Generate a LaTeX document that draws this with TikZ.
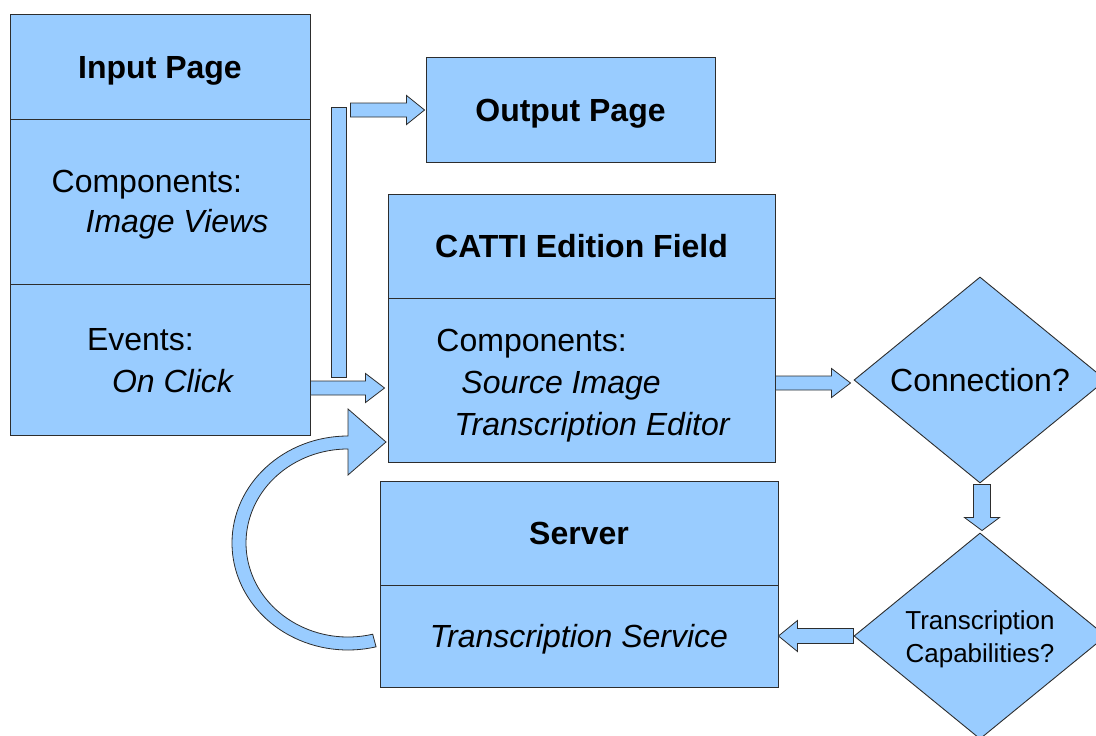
\documentclass[tikz,border=0pt]{standalone}
\usepackage{fontspec}
\setmainfont{Liberation Sans}
\usetikzlibrary{calc,shapes.geometric}
\definecolor{boxfill}{RGB}{153,204,255}
\definecolor{boxline}{RGB}{45,45,45}

% Block arrow from #1 to #2: shaft half width #3, head half width #4, head length #5
\newcommand\blockarrow[5]{%
  \coordinate (ba-s) at #1;
  \coordinate (ba-e) at #2;
  \coordinate (ba-h) at ($(ba-e)!#5!(ba-s)$);
  \draw[arrowshape] ($(ba-s)!#3!90:(ba-e)$) -- ($(ba-h)!#3!-90:(ba-s)$)
    -- ($(ba-h)!#4!-90:(ba-s)$) -- (ba-e) -- ($(ba-h)!#4!90:(ba-s)$)
    -- ($(ba-h)!#3!90:(ba-s)$) -- ($(ba-s)!#3!-90:(ba-e)$) -- cycle;}

\begin{document}
\begin{tikzpicture}[x=1pt,y=-1pt,
  every node/.style={font=\fontsize{32}{41}\selectfont, text=black},
  cell/.style={draw=boxline, fill=boxfill, line width=0.9pt, inner sep=0pt,
    text height=23pt, text depth=0pt},
  lines/.style={align=left, inner sep=0pt},
  decision/.style={diamond, draw=boxline, fill=boxfill, line width=0.9pt, inner sep=0pt,
    aspect=1.223, minimum width=252pt, minimum height=206pt},
  arrowshape/.style={draw=boxline, fill=boxfill, line width=0.8pt, line join=miter}]
\useasboundingbox (0,0) rectangle (1096,736);
\clip (0,0) rectangle (1096,736);

% Input page
\node[cell, minimum width=300pt, minimum height=105pt] (inTitle) at (160,66.5) {\bfseries Input Page};
\node[cell, minimum width=300pt, minimum height=165pt] (inComp) at (160,201.5) {};
\node[lines, font=\fontsize{32}{40}\selectfont] (inCompText) at ($(inComp.center)+(0,3.6)$)
  {Components:\\\hspace*{34pt}\itshape Image Views};
\node[cell, minimum width=300pt, minimum height=151pt] (inEv) at (160,359.5) {};
\node[lines, font=\fontsize{32}{42}\selectfont] (inEvText) at ($(inEv.center)+(0,0.8)$)
  {Events:\\\hspace*{25pt}\itshape On Click};

% Output page
\node[cell, minimum width=289pt, minimum height=105pt] (out) at (570.5,109.5) {\bfseries Output Page};

% CATTI edition field
\node[cell, minimum width=387pt, minimum height=104pt] (cattiTitle) at (581.5,246) {\bfseries CATTI Edition Field};
\node[cell, minimum width=387pt, minimum height=164pt] (cattiBody) at (581.5,380) {};
\node[lines, font=\fontsize{32}{42}\selectfont] (cattiText) at ($(cattiBody.center)+(1.5,5.2)$)
  {Components:\\\hspace*{25pt}\itshape Source Image\\\hspace*{18pt}\itshape Transcription Editor};

% Server
\node[cell, minimum width=398pt, minimum height=104pt] (srvTitle) at (579,533) {\bfseries Server};
\node[cell, minimum width=398pt, minimum height=102pt] (srvBody) at (579,636) {\itshape Transcription Service};

% Decisions
\node[decision] (conn) at (980,380) {Connection?};
\node[decision] (cap) at (980,636) {};
\node[lines, align=center, font=\fontsize{26}{32.5}\selectfont] (capText) at ($(cap.center)+(0,3.2)$)
  {Transcription\\Capabilities?};

% Vertical bar feeding the output page
\node[cell, minimum width=15pt, minimum height=270pt] (bar) at (338.5,242) {};

% Connectors
\coordinate (rowA) at (0,110);
\coordinate (rowB) at (0,388);
\coordinate (rowC) at (0,383);
\blockarrow{($(bar.east |- rowA)+(4,0)$)}{($(out.west |- rowA)+(-1,0)$)}{7pt}{14.5pt}{18pt}
\blockarrow{(inEv.east |- rowB)}{($(cattiBody.west |- rowB)+(-3,0)$)}{7pt}{14.5pt}{19pt}
\blockarrow{(cattiBody.east |- rowC)}{($(conn.west |- rowC)+(-3,0)$)}{7pt}{14.5pt}{19pt}
\blockarrow{($(conn.south)+(2,1)$)}{($(cap.north)+(2,-2)$)}{8.5pt}{17.5pt}{13pt}
\blockarrow{(cap.west)}{(srvBody.east |- cap.west)}{7.5pt}{15.5pt}{19pt}

% Loop back from the server to the edition field
\coordinate (loopC) at (348,543);
\draw[arrowshape] (348,436)
  arc[start angle=270, end angle=76, x radius=116, y radius=107]
  -- (372.7,634.2)
  arc[start angle=76, end angle=270, x radius=102, y radius=94]
  -- (348,475) -- (386,442) -- (348,409) -- cycle;
\end{tikzpicture}
\end{document}
